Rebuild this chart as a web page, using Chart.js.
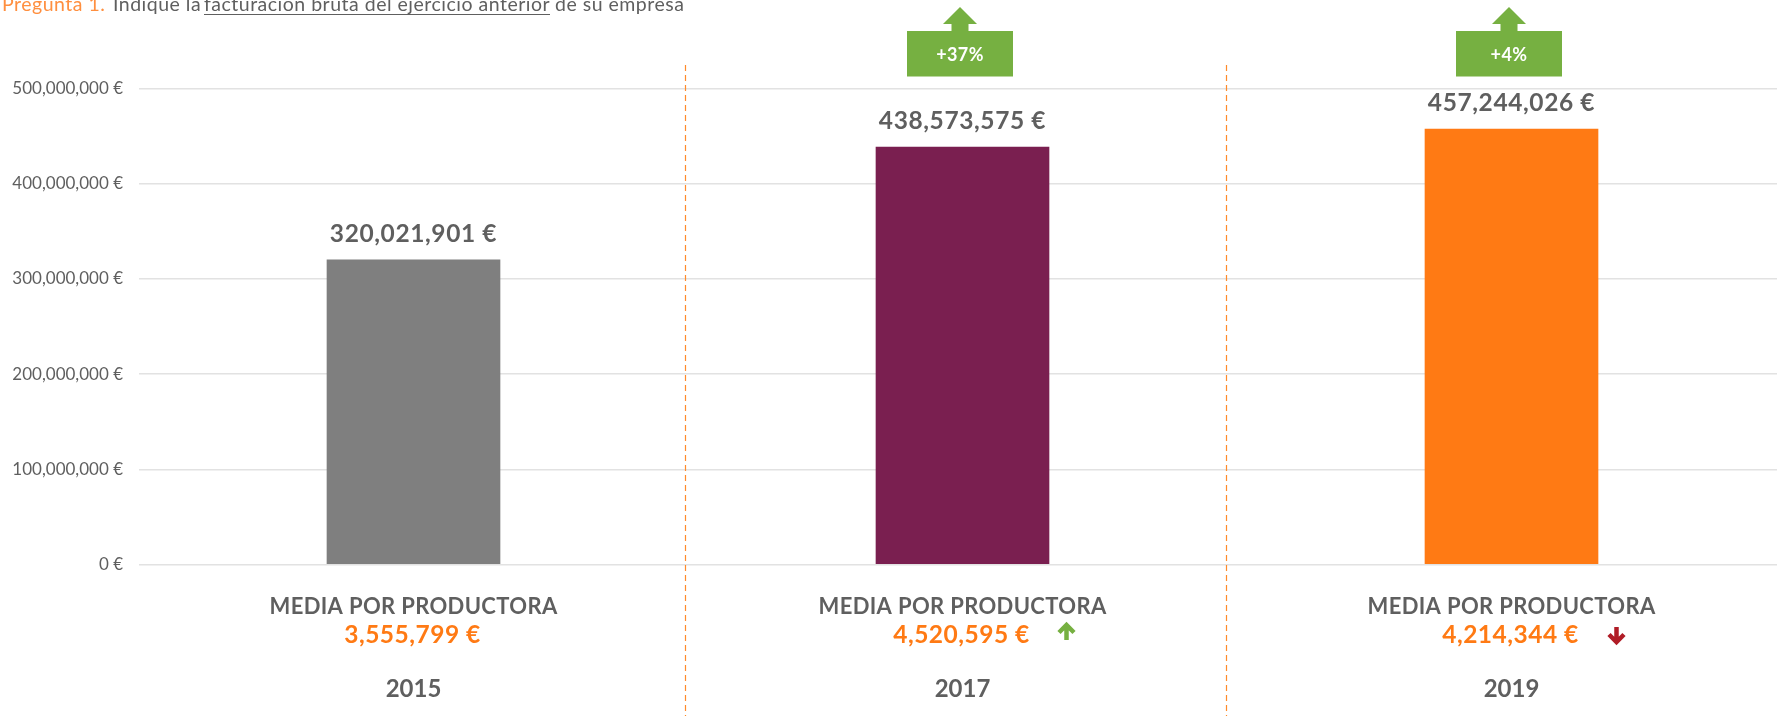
<!DOCTYPE html>
<html lang="es">
<head>
<meta charset="utf-8">
<title>Facturación bruta</title>
<script src="https://cdn.jsdelivr.net/npm/chart.js@4"></script>
<style>
  html, body { margin: 0; padding: 0; background: #fff; overflow: hidden; }
  /* the plot runs past the right edge of the window, like in the original */
  #chart { display: block; }
</style>
</head>
<body>
<canvas id="chart" width="1786" height="722"></canvas>
<script>
// Data
const years = ['2015', '2017', '2019'];
const billing = [320021901, 438573575, 457244026];
const billingLabels = ['320,021,901 €', '438,573,575 €', '457,244,026 €'];
const barColors = ['#7f7f7f', '#7a1f50', '#ff7a14'];
const averageTitle = 'MEDIA POR PRODUCTORA';
const averageLabels = ['3,555,799 €', '4,520,595 €', '4,214,344 €'];
const averageTrend = [0, 1, -1];
const changeLabels = ['', '+37%', '+4%'];
const separators = [685.5, 1226.5];

const FONT = 'Lato, sans-serif';
const GREY = '#5f5f5f';
const GREEN = '#76b041';
const RED = '#b01c26';
const ORANGE = '#ff7a14';

const text = (ctx, str, x, y, font, color, spacing = '0px', align = 'center') => {
  ctx.font = font;
  ctx.fillStyle = color;
  ctx.letterSpacing = spacing;
  ctx.textAlign = align;
  ctx.textBaseline = 'middle';
  ctx.fillText(str, x, y);
};

// small arrow next to the average value, dir 1 = up, -1 = down
const smallArrow = (ctx, x, y, dir, color) => {
  ctx.strokeStyle = color;
  ctx.lineWidth = 4.5;
  ctx.beginPath();
  ctx.moveTo(x, y + 8 * dir);
  ctx.lineTo(x, y - 7 * dir);
  ctx.moveTo(x - 7.5, y + 0.5 * dir);
  ctx.lineTo(x, y - 7 * dir);
  ctx.lineTo(x + 7.5, y + 0.5 * dir);
  ctx.stroke();
};

// green box with an arrow on top
const changeBadge = (ctx, x, label) => {
  ctx.fillStyle = GREEN;
  ctx.fillRect(x - 53, 31, 106, 45.5);
  ctx.beginPath();
  ctx.moveTo(x, 7);
  ctx.lineTo(x + 17, 24);
  ctx.lineTo(x + 8.5, 24);
  ctx.lineTo(x + 8.5, 31);
  ctx.lineTo(x - 8.5, 31);
  ctx.lineTo(x - 8.5, 24);
  ctx.lineTo(x - 17, 24);
  ctx.closePath();
  ctx.fill();
  text(ctx, label, x, 55.5, 'bold 18px ' + FONT, '#fff', '0.4px');
};

const annotations = {
  id: 'annotations',
  afterDatasetsDraw(chart) {
    const { ctx, scales } = chart;
    const bars = chart.getDatasetMeta(0).data;
    ctx.save();

    // question on top, cut by the edge of the page
    const titleFont = '19.5px ' + FONT;
    text(ctx, 'Pregunta 1.', 2, 5, titleFont, '#ff8f3f', '0.5px', 'left');
    text(ctx, 'Indique la', 113, 5, titleFont, GREY, '0.5px', 'left');
    text(ctx, 'facturación bruta del ejercicio anterior', 204, 5, titleFont, GREY, '0.5px', 'left');
    text(ctx, 'de su empresa', 555, 5, titleFont, GREY, '0.5px', 'left');
    ctx.fillStyle = GREY;
    ctx.fillRect(204, 14, 346, 1);

    // dashed lines between the years
    ctx.strokeStyle = '#ff8a2a';
    ctx.lineWidth = 1.2;
    ctx.setLineDash([6, 4]);
    separators.forEach((x) => {
      ctx.beginPath();
      ctx.moveTo(x, 65);
      ctx.lineTo(x, 716);
      ctx.stroke();
    });
    ctx.setLineDash([]);

    bars.forEach((bar, i) => {
      const x = scales.x.getPixelForTick(i);
      text(ctx, billingLabels[i], x, bar.y - 26, 'bold 24.5px ' + FONT, GREY, '0.6px');
      text(ctx, averageTitle, x, 607, 'bold 22px ' + FONT, GREY, '0.35px');
      text(ctx, averageLabels[i], x - 1, 635.5, 'bold 24.5px ' + FONT, ORANGE, '0.5px');
      if (averageTrend[i] > 0) smallArrow(ctx, x + 104, 632, 1, GREEN);
      if (averageTrend[i] < 0) smallArrow(ctx, x + 105, 635, -1, RED);
      if (changeLabels[i]) changeBadge(ctx, x - 2.5, changeLabels[i]);
    });
    ctx.restore();
  }
};

new Chart(document.getElementById('chart'), {
  type: 'bar',
  data: {
    labels: years,
    datasets: [{
      data: billing,
      backgroundColor: barColors,
      barThickness: 173
    }]
  },
  plugins: [annotations],
  options: {
    responsive: false,
    animation: false,
    layout: { padding: { top: 88.5, left: 0, right: 0, bottom: 0 } },
    plugins: { legend: { display: false }, tooltip: { enabled: false } },
    scales: {
      x: {
        // room for the average labels between the axis and the year
        afterFit(scale) { scale.height = 157.5; },
        grid: { display: false },
        border: { display: false },
        ticks: {
          padding: 102,
          color: GREY,
          font: { family: FONT, size: 24, weight: 'bold' }
        }
      },
      y: {
        min: 0,
        max: 500000000,
        afterFit(scale) { scale.width = 139; },
        border: { display: false },
        grid: { color: '#e2e2e2', lineWidth: 1.5, drawTicks: false },
        ticks: {
          stepSize: 100000000,
          padding: 16,
          color: GREY,
          font: { family: FONT, size: 17 },
          callback: (v) => v.toLocaleString('en-US') + ' €'
        }
      }
    }
  }
});
</script>
</body>
</html>
